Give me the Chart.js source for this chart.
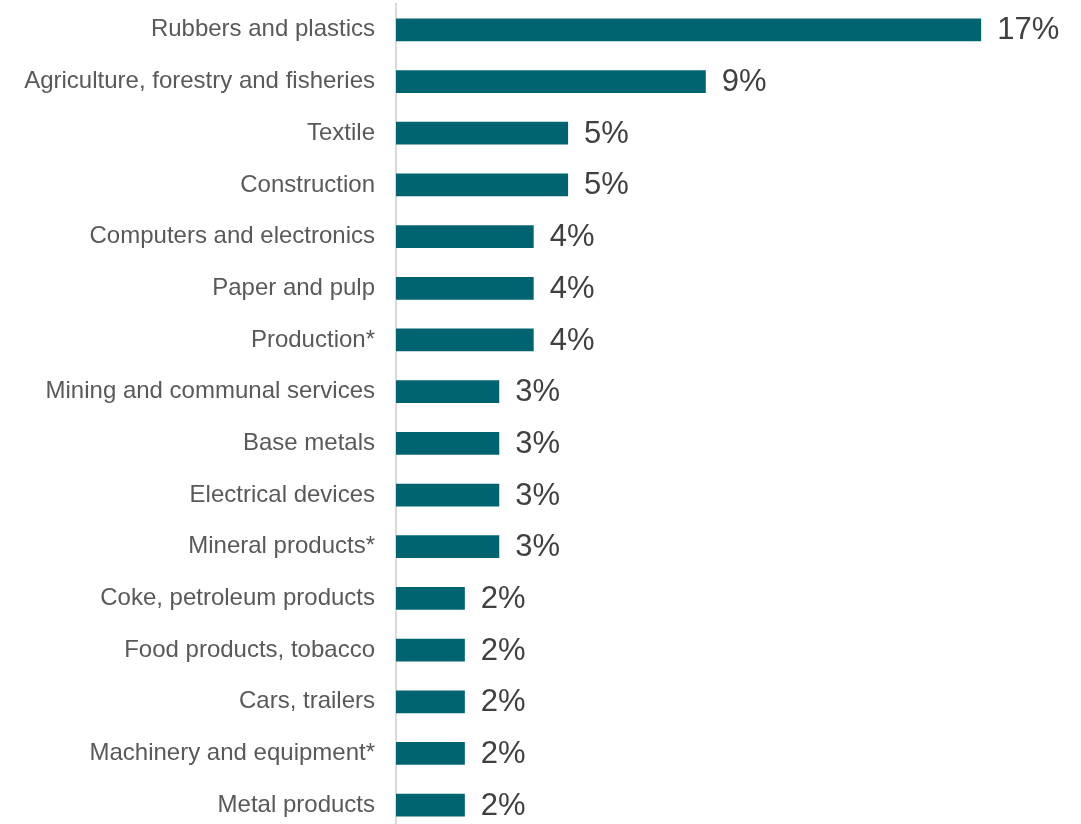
<!DOCTYPE html>
<html>
<head>
<meta charset="utf-8">
<script src="https://cdn.jsdelivr.net/npm/chart.js@4"></script>
<style>
  html, body { margin: 0; padding: 0; background: #ffffff; overflow: hidden; }
  canvas { display: block; }
</style>
</head>
<body>
<canvas id="chart" width="1081" height="831"></canvas>
<script>
// Share of companies by sector (%)
const sectors = [
  "Rubbers and plastics",
  "Agriculture, forestry and fisheries",
  "Textile",
  "Construction",
  "Computers and electronics",
  "Paper and pulp",
  "Production*",
  "Mining and communal services",
  "Base metals",
  "Electrical devices",
  "Mineral products*",
  "Coke, petroleum products",
  "Food products, tobacco",
  "Cars, trailers",
  "Machinery and equipment*",
  "Metal products"
];
const shares = [17, 9, 5, 5, 4, 4, 4, 3, 3, 3, 3, 2, 2, 2, 2, 2];

const BAR_COLOR = "#006470";
const LABEL_FONT = "Liberation Sans, Arial, Helvetica, sans-serif";

// Writes the percentage just past the end of each bar
const valueLabels = {
  id: "valueLabels",
  afterDatasetsDraw(chart) {
    const ctx = chart.ctx;
    const meta = chart.getDatasetMeta(0);
    ctx.save();
    ctx.font = "31px " + LABEL_FONT;
    ctx.fillStyle = "#404040";
    ctx.textAlign = "left";
    ctx.textBaseline = "middle";
    meta.data.forEach((bar, i) => {
      ctx.fillText(shares[i] + "%", bar.x + 16, bar.y + 1);
    });
    ctx.restore();
  }
};

new Chart(document.getElementById("chart"), {
  type: "bar",
  data: {
    labels: sectors,
    datasets: [{
      data: shares,
      backgroundColor: BAR_COLOR,
      borderWidth: 0,
      barPercentage: 0.44,
      categoryPercentage: 1.0
    }]
  },
  options: {
    indexAxis: "y",
    responsive: false,
    animation: false,
    layout: { padding: { top: 4, right: 31, bottom: 0, left: 0 } },
    plugins: {
      legend: { display: false },
      tooltip: { enabled: false }
    },
    scales: {
      x: {
        display: false,
        min: 0,
        max: 19
      },
      y: {
        afterFit(scale) {
          scale.width = 396;
          scale.paddingTop = 0;
          scale.paddingBottom = 0;
        },
        grid: { display: false, drawTicks: false },
        border: { display: true, color: "#d9d9d9", width: 2 },
        ticks: {
          padding: 21,
          color: "#595959",
          font: { family: LABEL_FONT, size: 24 }
        }
      }
    }
  },
  plugins: [valueLabels]
});
</script>
</body>
</html>
